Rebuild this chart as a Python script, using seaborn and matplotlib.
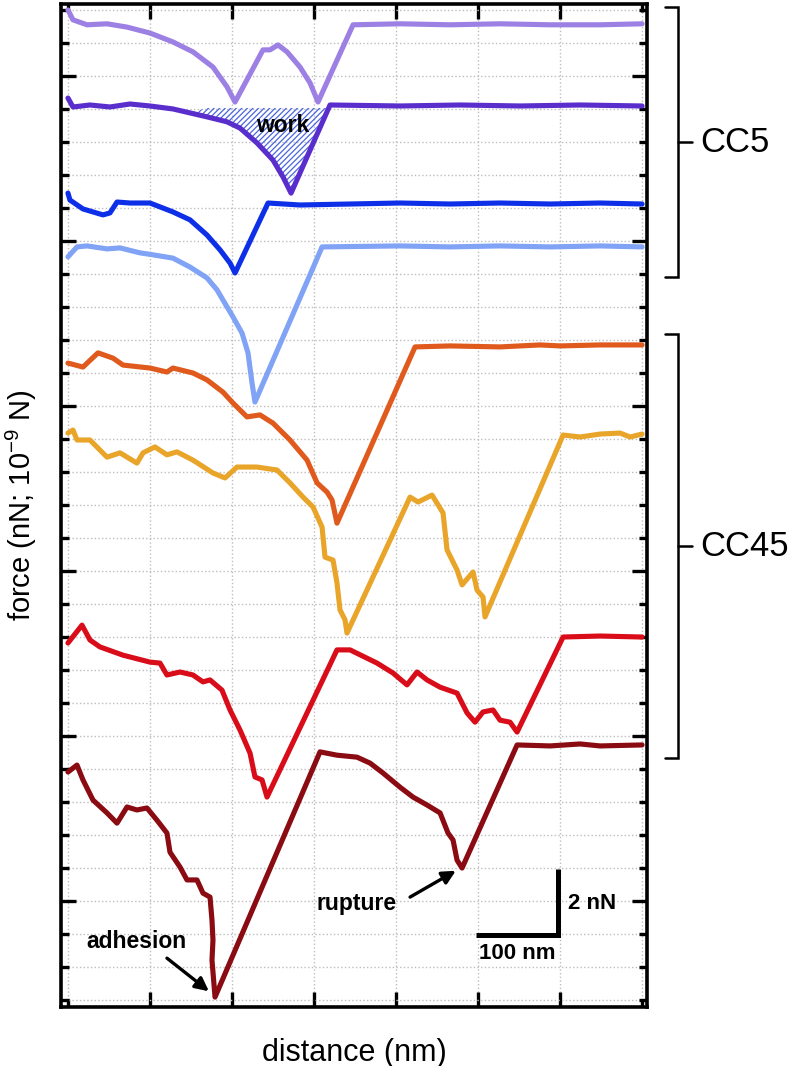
import numpy as np
import pandas as pd
import matplotlib
matplotlib.use("Agg")
import matplotlib.pyplot as plt
from matplotlib.lines import Line2D
import seaborn as sns

# ---------------- data (distance in nm, force in nN, curves offset vertically) ----------------
x1 = [0, 6.1, 23.2, 47.6, 72, 100, 128, 152.4, 176.8, 193.9, 203.7, 237.8, 246.3, 256.1, 267.1, 282.9, 295.1, 304.9,
      347.6, 404.9, 465.9, 526.8, 587.8, 648.8, 700]
y1 = [30.0, 29.7, 29.55, 29.58, 29.48, 29.3, 29.03, 28.73, 28.27, 27.67, 27.21, 28.79, 28.79, 28.94, 28.73, 28.27, 27.79, 27.21,
      29.55, 29.58, 29.55, 29.58, 29.55, 29.55, 29.58]

x2 = [0, 6.1, 26.8, 51.2, 75.6, 100, 128, 148.8, 169.5, 193.9, 209.8, 230.5, 250, 262.2, 272,
      319.5, 404.9, 478, 551.2, 624.4, 700]
y2 = [27.33, 27.06, 27.12, 27.06, 27.15, 27.09, 27.0, 26.88, 26.76, 26.61, 26.42, 25.97, 25.45, 24.94, 24.45,
      27.12, 27.09, 27.12, 27.09, 27.12, 27.09]

x3 = [0, 2.4, 18.3, 42.7, 51.2, 59.8, 75.6, 100, 128, 148.8, 169.5, 185.4, 197.6, 203.7,
      243.9, 282.9, 343.9, 404.9, 465.9, 526.8, 587.8, 648.8, 700]
y3 = [24.45, 24.24, 23.97, 23.79, 23.85, 24.18, 24.15, 24.15, 23.88, 23.64, 23.18, 22.73, 22.33, 22.03,
      24.15, 24.09, 24.12, 24.15, 24.12, 24.15, 24.12, 24.15, 24.12]

x4 = [0, 11, 23.2, 47.6, 63.4, 87.8, 103.7, 128, 148.8, 169.5, 181.7, 189, 201.2, 212.2, 219.5, 224.4, 228,
      309.8, 404.9, 465.9, 526.8, 587.8, 648.8, 700]
y4 = [22.52, 22.82, 22.85, 22.76, 22.79, 22.64, 22.58, 22.48, 22.21, 21.88, 21.52, 21.21, 20.70, 20.21, 19.61, 18.70, 18.12,
      22.82, 22.85, 22.82, 22.85, 22.82, 22.85, 22.82]

x5 = [0, 18.3, 36.6, 54.9, 67.1, 100, 120.7, 128, 152.4, 169.5, 189, 201.2, 218.3, 234.1, 250, 270.7, 291.5, 303.7,
      315.9, 322, 328, 423.2, 465.9, 526.8, 575.6, 600, 648.8, 700]
y5 = [19.30, 19.18, 19.61, 19.45, 19.24, 19.15, 19.03, 19.15, 19.0, 18.79, 18.42, 18.09, 17.67, 17.73, 17.48, 16.97, 16.36, 15.67,
      15.39, 15.15, 14.45, 19.79, 19.82, 19.79, 19.85, 19.82, 19.85, 19.85]

x6 = [0, 6.1, 11, 26.8, 47.6, 63.4, 84.1, 91.5, 106.1, 120.7, 132.9, 152.4, 176.8, 191.5, 206.1, 230.5, 254.9, 270.7,
      286.6, 298.8, 309.8, 313.4, 323.2, 328, 331.7, 337.8, 340.2, 417.1, 426.8, 443.9, 457.3, 462.2, 474.4, 480.5,
      493.9, 498.8, 506.1, 508.5, 603.7, 624.4, 648.8, 673.2, 685.4, 700]
y6 = [17.18, 17.27, 16.97, 16.97, 16.45, 16.58, 16.27, 16.58, 16.76, 16.52, 16.61, 16.36, 15.97, 15.82, 16.15, 16.15, 16.06, 15.67,
      15.24, 14.94, 14.33, 13.42, 13.33, 12.64, 11.82, 11.52, 11.12, 15.24, 15.09, 15.30, 14.76, 13.64, 13.03, 12.58,
      12.97, 12.42, 12.21, 11.61, 17.12, 17.06, 17.15, 17.18, 17.06, 17.15]

x7 = [0, 17.1, 26.8, 39, 67.1, 100, 112.2, 120.7, 136.6, 152.4, 164.6, 173.2, 187.8, 197.6, 209.8, 222, 228, 236.6, 242.7,
      328, 343.9, 376.8, 396.3, 413.4, 425.6, 437.8, 453.7, 474.4, 486.6, 496.3, 506.1, 518.3, 526.8, 539, 547.6,
      603.7, 648.8, 700]
y7 = [10.82, 11.36, 10.91, 10.70, 10.45, 10.24, 10.21, 9.85, 9.94, 9.85, 9.64, 9.70, 9.39, 8.79, 8.18, 7.48, 6.76, 6.67, 6.15,
      10.61, 10.61, 10.21, 9.91, 9.55, 9.94, 9.70, 9.48, 9.30, 8.70, 8.42, 8.73, 8.79, 8.48, 8.42, 8.12,
      11.0, 11.03, 11.0]

x8 = [0, 11, 18.3, 30.5, 47.6, 59.8, 72, 84.1, 96.3, 108.5, 120.7, 124.4, 136.6, 145.1, 157.3, 164.6, 173.2, 175.6, 176.8,
      175.6, 179.3, 307.3, 328, 352.4, 368.3, 384.1, 404.9, 420.7, 437.8, 453.7, 463.4, 469.5, 474.4, 480.5,
      547.6, 587.8, 624.4, 648.8, 700]
y8 = [6.91, 7.12, 6.67, 6.06, 5.67, 5.36, 5.85, 5.76, 5.82, 5.45, 5.06, 4.48, 4.03, 3.64, 3.64, 3.24, 3.12, 2.42, 1.82,
      1.21, 0.09, 7.52, 7.42, 7.36, 7.18, 6.88, 6.45, 6.15, 5.91, 5.67, 5.06, 4.85, 4.24, 4.0,
      7.73, 7.70, 7.76, 7.70, 7.73]

curve_names = ["c1", "c2", "c3", "c4", "c5", "c6", "c7", "c8"]
curve_colors = ["#9d80e3", "#5a2ecc", "#0d2fe8", "#80a3f5", "#df5a1c", "#e9a52a", "#d90d1a", "#8a0b12"]
groups = ["CC5", "CC45"]

work_top = 27.03          # baseline of the shaded work area (nN)
scale_nm = 100            # horizontal scale bar length
scale_nN = 2              # vertical scale bar length

# ---------------- style ----------------
sns.set_theme(style="white")
plt.rcParams["font.family"] = ["Liberation Sans", "DejaVu Sans"]
plt.rcParams["mathtext.fontset"] = "custom"
plt.rcParams["mathtext.rm"] = "Liberation Sans"
plt.rcParams["hatch.linewidth"] = 0.9
plt.rcParams["text.color"] = "black"
plt.rcParams["axes.labelcolor"] = "black"

fig = plt.figure(figsize=(8, 10.66), dpi=100)
ax = fig.add_axes([61 / 800, 59 / 1066, (647 - 61) / 800, (1007 - 4) / 1066])

xs = [x1, x2, x3, x4, x5, x6, x7, x8]
ys = [y1, y2, y3, y4, y5, y6, y7, y8]

# hatched "work" area under curve 2
xa, ya = np.array(x2), np.array(y2)
mask = (xa > 160) & (xa < 330)
ax.fill_between(xa, ya, work_top, where=mask & (ya <= work_top + 0.05), interpolate=True,
                facecolor="none", edgecolor="#4a66dc", hatch="//////", linewidth=0, zorder=2)

for name, col, xv, yv in zip(curve_names, curve_colors, xs, ys):
    df = pd.DataFrame({"x": xv, "y": yv})
    sns.lineplot(data=df, x="x", y="y", ax=ax, color=col, linewidth=3.7, sort=False,
                 estimator=None, solid_joinstyle="round", solid_capstyle="round", zorder=3)

ax.set_xlim(-8.5, 706)
ax.set_ylim(-0.21, 30.18)

ax.set_xticks([100, 200, 300, 400, 500, 600])
ax.set_xticks([0, 700], minor=True)
ax.set_yticks([3, 8, 13, 18, 23, 28])
ax.set_yticks(list(range(0, 31)), minor=True)
ax.tick_params(which="both", direction="in", top=True, right=True, bottom=True, left=True,
               labelbottom=False, labelleft=False, color="black")
ax.tick_params(which="major", length=11, width=2.4)
ax.tick_params(which="minor", length=6, width=2.4)
ax.grid(True, which="both", color="#bdbdbd", linestyle=":", linewidth=1.0)
for s in ax.spines.values():
    s.set_linewidth(2.6)
    s.set_color("black")

ax.set_xlabel("distance (nm)", fontsize=22, labelpad=22)
ax.set_ylabel("force (nN; 10$^{\\mathregular{-9}}$ N)", fontsize=21, labelpad=16)

# annotations
arrow_kw = dict(arrowstyle="-|>", color="black", lw=2.4, mutation_scale=20, shrinkA=0, shrinkB=1)
ax.text(262, 26.5, "work", fontsize=16.5, fontweight="bold", ha="center", va="center", zorder=4)
ax.text(84, 1.76, "adhesion", fontsize=16.5, fontweight="bold", ha="center", va="center")
ax.annotate("", xy=(173.2, 0.24), xytext=(120.7, 1.27), arrowprops=arrow_kw)
ax.text(352, 2.94, "rupture", fontsize=16.5, fontweight="bold", ha="center", va="center")
ax.annotate("", xy=(474.4, 3.94), xytext=(417.1, 3.12), arrowprops=arrow_kw)

# scale bar
sx1, sy0 = 597.6, 1.97
ax.plot([sx1 - scale_nm, sx1, sx1], [sy0, sy0, sy0 + scale_nN], color="black", lw=3.6,
        solid_joinstyle="miter", solid_capstyle="butt", zorder=4)
ax.text(sx1 + 12, sy0 + 0.97, "2 nN", fontsize=16, fontweight="bold", ha="left", va="center")
ax.text(sx1 - scale_nm / 2, sy0 - 0.55, "100 nm", fontsize=16, fontweight="bold", ha="center", va="center")

# group brackets (figure pixel layout)
def bracket(top_px, bot_px, label):
    X = lambda p: p / 800
    Y = lambda p: 1 - p / 1066
    mid = (top_px + bot_px) / 2
    fig.add_artist(Line2D([X(665), X(678), X(678), X(665)], [Y(top_px), Y(top_px), Y(bot_px), Y(bot_px)],
                          color="black", lw=1.8, solid_joinstyle="miter"))
    fig.add_artist(Line2D([X(678), X(692)], [Y(mid), Y(mid)], color="black", lw=1.8))
    fig.text(X(700), Y(mid), label, fontsize=25, ha="left", va="center")

bracket(7, 277, groups[0])
bracket(334, 758, groups[1])

fig.savefig("out.png", dpi=100)
